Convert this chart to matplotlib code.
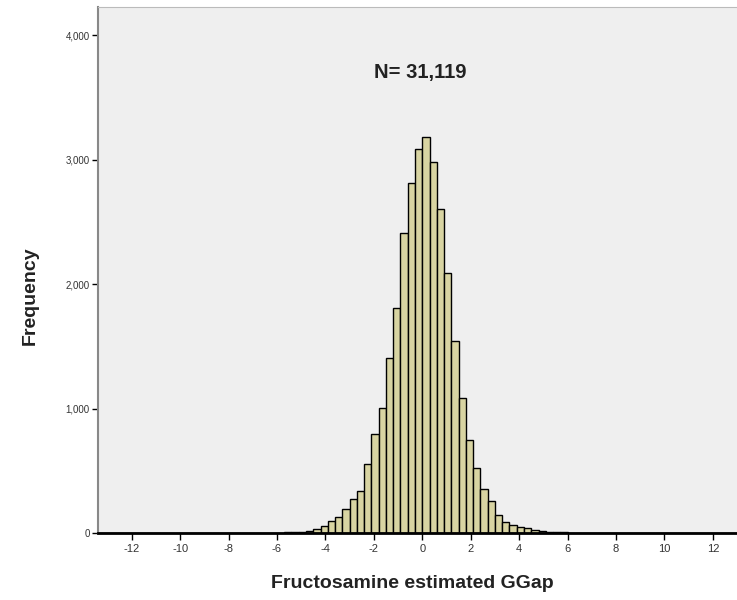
import matplotlib
matplotlib.use("Agg")
import matplotlib.pyplot as plt
import numpy as np

plt.rcParams["font.family"] = ["Liberation Sans", "DejaVu Sans"]

# Histogram data (SPSS-style, bin width 0.3, first bin left edge -13.5)
bin_start = -13.5
bin_width = 0.3
counts = [
    # -13.5 .. -6.3 (sparse tail)
    1, 0, 1, 0, 0, 1, 0, 1, 1, 0, 1, 0, 1, 1, 0, 1, 1, 2, 1, 1, 2, 1, 2, 2, 3,
    # -6.0 .. -0.3
    3, 5, 7, 10, 18, 32, 56, 96, 131, 190, 273, 340, 554, 793, 1001, 1408, 1805, 2407, 2814, 3084,
    # 0.0 .. 6.3
    3183, 2982, 2600, 2086, 1545, 1082, 747, 519, 357, 255, 145, 91, 65, 50, 38, 25, 15, 10, 7, 5, 4, 3,
    # 6.6 .. 12.9 (sparse tail)
    3, 2, 2, 1, 2, 1, 1, 1, 0, 1, 1, 0, 1, 1, 0, 1, 0, 1, 0, 1, 0, 1,
]
x_ticks = [-12, -10, -8, -6, -4, -2, 0, 2, 4, 6, 8, 10, 12]
y_ticks = [0, 1000, 2000, 3000, 4000]
y_tick_labels = ["0", "1,000", "2,000", "3,000", "4,000"]
n_label = "N= 31,119"
x_label = "Fructosamine estimated GGap"
y_label = "Frequency"

fig = plt.figure(figsize=(7.37, 6.0), dpi=100)
fig.patch.set_facecolor("white")
ax = fig.add_axes([98 / 737, 1 - 533 / 600, 1 - 98 / 737 + 0.01, (533 - 7) / 600])
ax.set_facecolor("#efefef")

lefts = bin_start + bin_width * np.arange(len(counts))
ax.bar(lefts, counts, width=bin_width, align="edge",
       color="#d8d4a2", edgecolor="black", linewidth=1.0)

ax.set_xlim(-13.39, 13.3)
ax.set_ylim(0, 4225)

ax.set_xticks(x_ticks)
ax.set_xticklabels([str(t) for t in x_ticks], fontsize=8, color="#333333")
ax.set_yticks(y_ticks)
ax.set_yticklabels(y_tick_labels, fontsize=7, color="#333333")
ax.tick_params(axis="x", direction="out", length=5, width=1.0, pad=3)
ax.tick_params(axis="y", direction="out", length=4, width=1.0, pad=2)

for s in ["top", "right"]:
    ax.spines[s].set_color("#bbbbbb")
    ax.spines[s].set_linewidth(0.8)
ax.spines["left"].set_color("#888888")
ax.spines["left"].set_linewidth(1.5)
ax.spines["bottom"].set_color("black")
ax.spines["bottom"].set_linewidth(2.0)

ax.text(-0.1, 3700, n_label, ha="center", va="center",
        fontsize=14.5, fontweight="bold", color="#222222")

fig.text(30 / 737, 1 - 296 / 600, y_label, rotation=90, ha="center", va="center",
         fontsize=14, fontweight="bold", color="#222222")
fig.text(412 / 737, 1 - 583 / 600, x_label, ha="center", va="center",
         fontsize=14, fontweight="bold", color="#222222")

fig.savefig("out.png", dpi=100)
